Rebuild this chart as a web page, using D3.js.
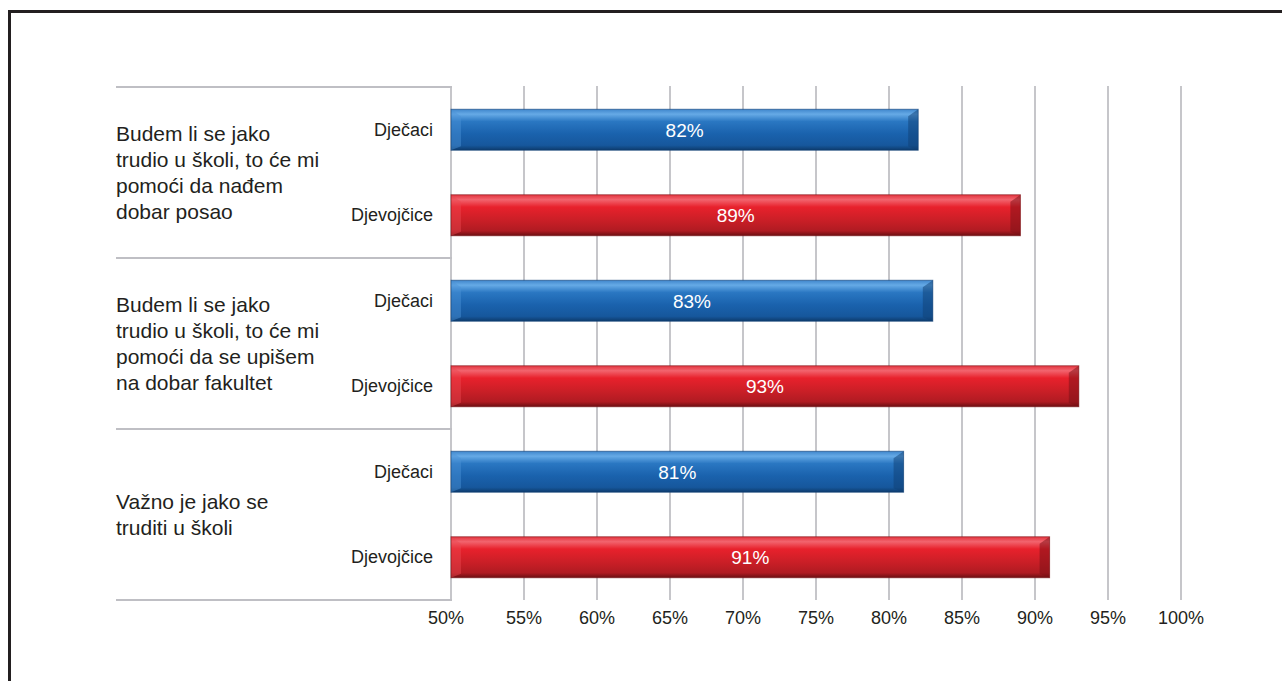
<!DOCTYPE html>
<html>
<head>
<meta charset="utf-8">
<script src="https://cdn.jsdelivr.net/npm/d3@7"></script>
<style>
  body { margin: 0; background: #fff; }
  svg { display: block; font-family: "Liberation Sans", Arial, Helvetica, sans-serif; }
</style>
</head>
<body>
<div id="chart"></div>
<script>
const questions = [
  ["Budem li se jako", "trudio u školi, to će mi", "pomoći da nađem", "dobar posao"],
  ["Budem li se jako", "trudio u školi, to će mi", "pomoći da se upišem", "na dobar fakultet"],
  ["Važno je jako se", "truditi u školi"]
];
const groups = ["Dječaci", "Djevojčice"];
const boys = [82, 83, 81];
const girls = [89, 93, 91];
const ticks = [50, 55, 60, 65, 70, 75, 80, 85, 90, 95, 100];

const rows = [];
questions.forEach((q, i) => {
  rows.push({ q: i, g: 0, label: groups[0], value: boys[i] });
  rows.push({ q: i, g: 1, label: groups[1], value: girls[i] });
});

const W = 1282, H = 681;
const svg = d3.select("#chart").append("svg")
  .attr("width", W)
  .attr("height", H);

// frame (only left and top visible)
svg.append("path")
  .attr("d", `M9.5,${H} V11.5 H${W}`)
  .attr("fill", "none")
  .attr("stroke", "#231f20")
  .attr("stroke-width", 3);

const x = d3.scaleLinear().domain([50, 100]).range([451, 1181]);
const y = d3.scaleBand().domain(d3.range(rows.length)).range([87, 600]);
const qy = d3.scaleBand().domain(d3.range(questions.length)).range([87, 600]);
const barH = 41;

// gradients
const defs = svg.append("defs");
const palettes = [
  { id: "blue", stops: [["0%", "#3f86cc"], ["12%", "#66aae6"], ["30%", "#2a77c2"], ["60%", "#1a62ad"], ["88%", "#16579c"], ["100%", "#0d3b6c"]],
    light: "#4c93d6", dark: "#103f73" },
  { id: "red", stops: [["0%", "#e3353f"], ["12%", "#f2646e"], ["30%", "#e8212c"], ["60%", "#cc1f27"], ["88%", "#b01b22"], ["100%", "#6b0e12"]],
    light: "#ec4650", dark: "#7a1015" }
];
palettes.forEach(p => {
  const lg = defs.append("linearGradient")
    .attr("id", "g-" + p.id)
    .attr("x1", 0).attr("y1", 0).attr("x2", 0).attr("y2", 1);
  p.stops.forEach(s => lg.append("stop").attr("offset", s[0]).attr("stop-color", s[1]));
});

// gridlines
svg.append("g").selectAll("line")
  .data(ticks)
  .enter()
  .append("line")
  .attr("x1", d => x(d)).attr("x2", d => x(d))
  .attr("y1", 86).attr("y2", 600)
  .attr("stroke", "#c6c6ca")
  .attr("stroke-width", 2);

// group separators
svg.append("g").selectAll("line")
  .data(d3.range(questions.length + 1))
  .enter()
  .append("line")
  .attr("x1", 116).attr("x2", x(50) + 1)
  .attr("y1", d => d < questions.length ? qy(d) : 600)
  .attr("y2", d => d < questions.length ? qy(d) : 600)
  .attr("stroke", "#bfbfc4")
  .attr("stroke-width", 2);

// tick labels
svg.append("g").selectAll("text")
  .data(ticks)
  .enter()
  .append("text")
  .attr("x", (d, i) => x(d) - (i === 0 ? 5 : 0))
  .attr("y", 624)
  .attr("text-anchor", "middle")
  .attr("font-size", 18)
  .attr("fill", "#231f20")
  .text(d => d + "%");

// question labels
questions.forEach((lines, i) => {
  const cy = qy(i) + qy.bandwidth() / 2;
  const first = cy - (lines.length - 1) * 13 + 7;
  svg.append("text")
    .attr("x", 116)
    .attr("font-size", 21)
    .attr("fill", "#231f20")
    .selectAll("tspan")
    .data(lines)
    .enter()
    .append("tspan")
    .attr("x", 116)
    .attr("y", (d, j) => first + j * 26)
    .text(d => d);
});

// bars
const bars = svg.append("g").selectAll("g")
  .data(rows)
  .enter()
  .append("g");

bars.each(function(d, i) {
  const g = d3.select(this);
  const p = palettes[d.g];
  const x0 = x(50), x1 = x(d.value);
  const y0 = y(i) + (y.bandwidth() - barH) / 2, y1 = y0 + barH;
  const b = 10, bt = 7, bb = 4;

  g.append("rect")
    .attr("x", x0).attr("y", y0)
    .attr("width", x1 - x0).attr("height", barH)
    .attr("fill", `url(#g-${p.id})`);

  // left bevel (light)
  g.append("polygon")
    .attr("points", `${x0},${y0} ${x0 + b},${y0 + bt} ${x0 + b},${y1 - bb} ${x0},${y1}`)
    .attr("fill", p.light)
    .attr("opacity", 0.45);
  // right bevel (dark)
  g.append("polygon")
    .attr("points", `${x1},${y0} ${x1 - b},${y0 + bt} ${x1 - b},${y1 - bb} ${x1},${y1}`)
    .attr("fill", p.dark)
    .attr("opacity", 0.5);

  g.append("rect")
    .attr("x", x0).attr("y", y0)
    .attr("width", x1 - x0).attr("height", barH)
    .attr("fill", "none")
    .attr("stroke", p.dark)
    .attr("stroke-opacity", 0.6)
    .attr("stroke-width", 1);

  g.append("text")
    .attr("x", (x0 + x1) / 2)
    .attr("y", (y0 + y1) / 2 + 7)
    .attr("text-anchor", "middle")
    .attr("font-size", 19)
    .attr("fill", "#fff")
    .text(d.value + "%");

  g.append("text")
    .attr("x", 433)
    .attr("y", (y0 + y1) / 2 + 6)
    .attr("text-anchor", "end")
    .attr("font-size", 18)
    .attr("fill", "#231f20")
    .text(d.label);
});
</script>
</body>
</html>
